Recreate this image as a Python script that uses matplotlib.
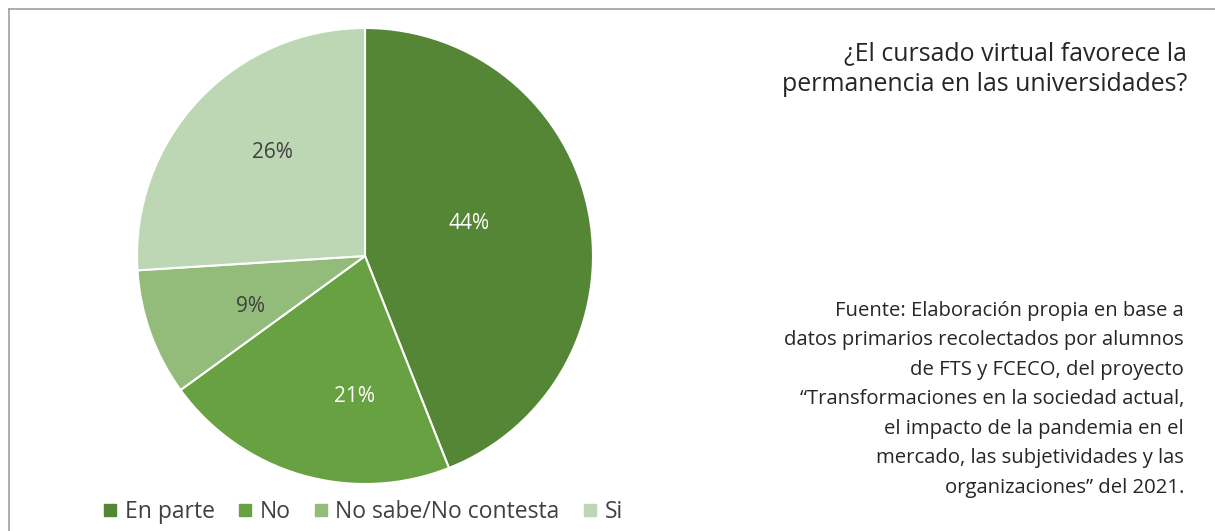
import numpy as np
import matplotlib
matplotlib.use("Agg")
import matplotlib.pyplot as plt
from matplotlib.lines import Line2D

plt.rcParams['font.family'] = ['Open Sans', 'DejaVu Sans']

# data
categorias = ["En parte", "No", "No sabe/No contesta", "Si"]
valores = [44, 21, 9, 26]
colores = ["#558636", "#67a142", "#93bb7a", "#bdd6b4"]
color_etiqueta = ["white", "white", "#404040", "#404040"]
# label placement (radial fraction, angle shift from wedge middle, deg)
dist_etiqueta = [0.48, 0.62, 0.55, 0.61]
giro_etiqueta = [6.5, 12, 4, -5]

titulo = "¿El cursado virtual favorece la\npermanencia en las universidades?"
fuente = ("Fuente: Elaboración propia en base a\n"
          "datos primarios recolectados por alumnos\n"
          "de FTS y FCECO, del proyecto\n"
          "“Transformaciones en la sociedad actual,\n"
          "el impacto de la pandemia en el\n"
          "mercado, las subjetividades y las\n"
          "organizaciones” del 2021.")

W, H = 1215, 531
fig = plt.figure(figsize=(W/100, H/100), dpi=100)

# pie axes (center ~ (365,256), radius ~228 px)
ax = fig.add_axes([137/W, 1-484/H, 456/W, 456/H])
wedges, _ = ax.pie(valores, colors=colores, startangle=90, counterclock=False,
                   wedgeprops=dict(edgecolor="white", linewidth=1.5))
ax.set_xlim(-1, 1)
ax.set_ylim(-1, 1)
ax.set_aspect("equal")

# percentage labels
inicio = 90.0
for v, d, g, c in zip(valores, dist_etiqueta, giro_etiqueta, color_etiqueta):
    medio = np.deg2rad(inicio - v*3.6/2 + g)
    ax.text(d*np.cos(medio), d*np.sin(medio), f"{v}%", ha="center", va="center",
            color=c, fontsize=15)
    inicio -= v*3.6

# frame lines (top and left only)
fig.add_artist(Line2D([9/W, 1], [1-9/H, 1-9/H], color="#a0a0a0", lw=1.2))
fig.add_artist(Line2D([9/W, 9/W], [0, 1-9/H], color="#a0a0a0", lw=1.2))

fig.text(1187/W, 1-41/H, titulo, ha="right", va="top", fontsize=17.9,
         color="#262626", linespacing=1.3)
fig.text(1184/W, 1-301/H, fuente, ha="right", va="top", fontsize=14.6,
         color="#262626", linespacing=1.63)

handles = [Line2D([], [], marker="s", ls="", markersize=8, color=c) for c in colores]
fig.legend(handles, categorias, loc="center", bbox_to_anchor=(363/W, 1-512/H),
           ncol=4, frameon=False, fontsize=16.5, handlelength=0.6, handletextpad=0.35,
           columnspacing=1.0, labelcolor="#404040")

fig.savefig("out.png", dpi=100)
